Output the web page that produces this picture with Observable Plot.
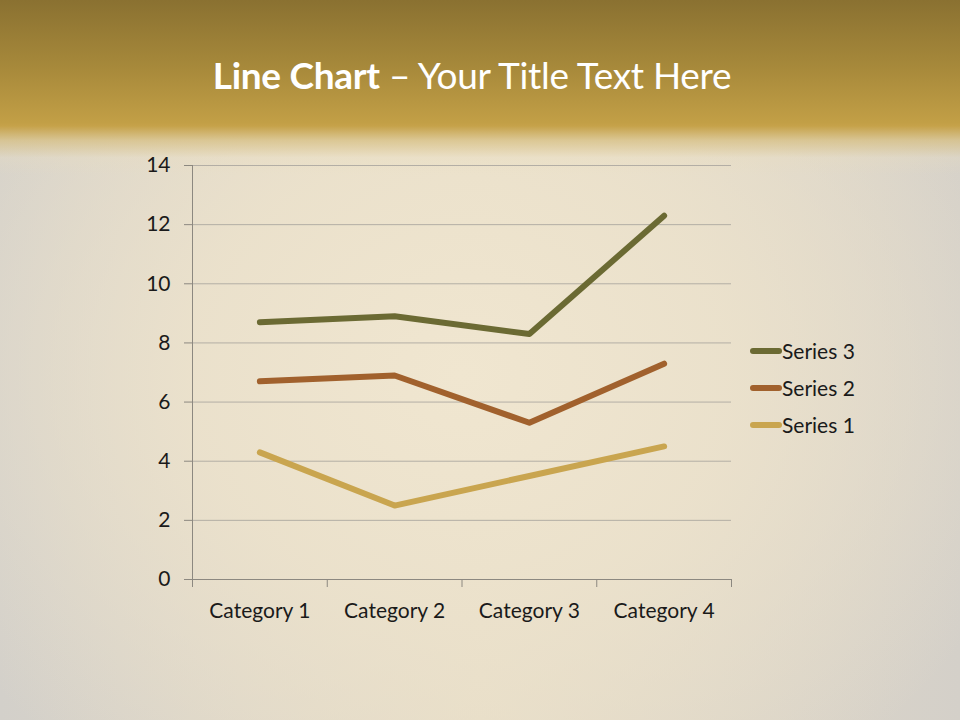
<!DOCTYPE html>
<html>
<head>
<meta charset="utf-8">
<script src="https://cdn.jsdelivr.net/npm/d3@7"></script>
<script src="https://cdn.jsdelivr.net/npm/@observablehq/plot@0.6"></script>
<style>
  html, body { margin: 0; padding: 0; }
  body { width: 960px; height: 720px; overflow: hidden; position: relative; font-family: Lato, "Open Sans", sans-serif; }
  #bg { position: absolute; inset: 0;
    background:
      radial-gradient(ellipse 62% 70% at 48% 52%, rgba(240,230,208,1) 0%, rgba(236,226,204,0.9) 45%, rgba(236,226,204,0) 100%),
      linear-gradient(90deg, #d3d0ca 0%, #ddd6c8 25%, #e6dcc6 50%, #ddd6c8 75%, #d4d0c9 100%);
  }
  #band { position: absolute; left: 0; top: 0; width: 960px; height: 175px;
    background: linear-gradient(180deg, #8a7131 0%, #a88a3b 40%, #c29f46 70%, #c6a24a 72%, rgba(214,190,128,0.75) 80%, rgba(232,220,190,0.3) 90%, rgba(236,226,204,0) 100%);
  }
  #title { position: absolute; left: 0; width: 944px; top: 52px; text-align: center; color: #fff; font-size: 37px; letter-spacing: -0.3px; }
  #title b { font-weight: 700; }
  #chart { position: absolute; left: 0; top: 140px; }
  #chart svg text { font-size: 21px; }
  #legend { position: absolute; left: 750px; top: 332px; font-size: 21px; color: #1a1a1a; }
  .item { display: flex; align-items: center; height: 37px; }
  .sw { width: 32px; height: 6px; border-radius: 3px; margin-right: 0px; }
</style>
</head>
<body>
<div id="bg"></div>
<div id="band"></div>
<div id="title"><b>Line Chart</b> – Your Title Text Here</div>
<div id="chart"></div>
<div id="legend"></div>
<script>
const categories = ["Category 1", "Category 2", "Category 3", "Category 4"];
const seriesNames = ["Series 1", "Series 2", "Series 3"];
const series1 = [4.3, 2.5, 3.5, 4.5];
const series2 = [6.7, 6.9, 5.3, 7.3];
const series3 = [8.7, 8.9, 8.3, 12.3];
const colors = ["#c9a54f", "#a1612d", "#6b6a33"];
const yTicks = [0, 2, 4, 6, 8, 10, 12, 14];

const allSeries = [series1, series2, series3];
const data = [];
allSeries.forEach((vals, s) => vals.forEach((v, i) => data.push({series: seriesNames[s], idx: i + 1, value: v})));

const boundaries = d3.range(categories.length + 1).map(i => i + 0.5);

const plot = Plot.plot({
  width: 960,
  height: 520,
  marginLeft: 192,
  marginRight: 229,
  marginTop: 25,
  marginBottom: 81,
  style: {background: "transparent", fontFamily: "Lato, 'Open Sans', sans-serif", fontSize: "21px", color: "#1a1a1a"},
  x: {type: "linear", domain: [0.5, categories.length + 0.5]},
  y: {domain: [0, 14]},
  color: {domain: seriesNames, range: colors},
  marks: [
    Plot.ruleY(yTicks.filter(t => t > 0), {stroke: "#b3aea5", strokeWidth: 1}),
    Plot.ruleY([0], {stroke: "#8c8880", strokeWidth: 1}),
    Plot.ruleX([0.5], {stroke: "#8c8880", strokeWidth: 1}),
    Plot.axisY({ticks: yTicks, tickSize: 8, tickPadding: 14, stroke: "#8c8880", label: null}),
    Plot.axisX({ticks: boundaries, tickSize: 8, tickFormat: () => "", stroke: "#8c8880", label: null}),
    Plot.axisX({ticks: d3.range(1, categories.length + 1), tickSize: 0, tickPadding: 24, tickFormat: i => categories[i - 1], label: null}),
    Plot.line(data, {x: "idx", y: "value", z: "series", stroke: "series", strokeWidth: 6, strokeLinecap: "round", strokeLinejoin: "round"})
  ]
});
document.getElementById("chart").appendChild(plot);

const legend = document.getElementById("legend");
[2, 1, 0].forEach(s => {
  const item = document.createElement("div");
  item.className = "item";
  item.innerHTML = `<span class="sw" style="background:${colors[s]}"></span><span>${seriesNames[s]}</span>`;
  legend.appendChild(item);
});
</script>
</body>
</html>
